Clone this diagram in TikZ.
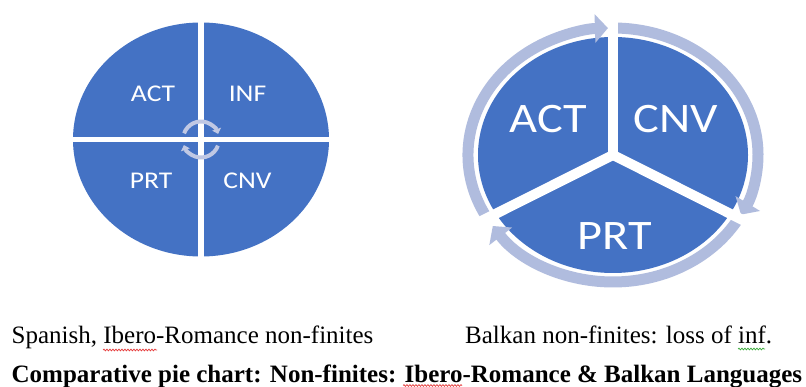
\documentclass[tikz,border=0pt]{standalone}
\usepackage{fontspec}
\setmainfont{Liberation Serif}
\newfontfamily\piefont{Carlito}
\usetikzlibrary{arrows.meta,decorations.pathmorphing,calc}
\definecolor{pieblue}{RGB}{68,114,196}
\definecolor{ringblue}{RGB}{176,188,222}
\definecolor{cyclearc}{RGB}{192,200,228}
\definecolor{spellred}{RGB}{230,60,60}
\definecolor{spellgreen}{RGB}{60,170,60}
\begin{document}
\begin{tikzpicture}[x=1pt,y=1pt,
  pielabel/.style={text=white, font=\piefont\fontsize{24}{28}\selectfont, xscale=1.15, inner sep=0, anchor=base},
  biglabel/.style={text=white, font=\piefont\fontsize{42}{48}\selectfont, xscale=1.15, inner sep=0, anchor=base},
  caption/.style={font=\fontsize{25}{30}\selectfont, inner sep=0, anchor=base west},
  titlecap/.style={font=\bfseries\fontsize{25}{30}\selectfont, inner sep=0, anchor=base west},
  ringarc/.style={ringblue, line width=11, -{Triangle[width=28pt,length=13pt]}},
  cycarc/.style={cyclearc, line width=4, -{Triangle[width=9pt,length=5pt]}},
  squiggle/.style={decorate, decoration={snake, amplitude=0.9pt, segment length=3pt}, line width=0.7pt}
]
\useasboundingbox[fill=white] (0,0) rectangle (806,-387);

% ---------- left pie ----------
\coordinate (lc) at (201,-139.5);
\fill[pieblue] (lc) ellipse[x radius=128, y radius=117];
\draw[white, line width=6] ([yshift=125]lc) -- ([yshift=-125]lc);
\draw[white, line width=5] ([xshift=-135]lc) -- ([xshift=135]lc);
\draw[cycarc] ([shift={(160:18)}]lc) arc[start angle=160, end angle=18, radius=18];
\draw[cycarc] ([shift={(-20:18)}]lc) arc[start angle=-20, end angle=-162, radius=18];
\node[pielabel] (lact) at (153,-101.7) {ACT};
\node[pielabel] (linf) at (247.5,-101.7) {INF};
\node[pielabel] (lprt) at (151,-189) {PRT};
\node[pielabel] (lcnv) at (247.5,-189) {CNV};

% ---------- right pie ----------
\coordinate (rc) at (613,-155);
\fill[pieblue] (rc) ellipse[x radius=135, y radius=118];
\draw[ringarc] ([shift={(209:145 and 127)}]rc) arc[start angle=209, end angle=92, x radius=145, y radius=127];
\draw[ringarc] ([shift={(89:145 and 127)}]rc) arc[start angle=89, end angle=-28, x radius=145, y radius=127];
\draw[ringarc] ([shift={(-31:145 and 127)}]rc) arc[start angle=-31, end angle=-146, x radius=145, y radius=127];
\draw[white, line width=10, line cap=round] (rc) -- ([shift={(90:175 and 152)}]rc);
\draw[white, line width=10, line cap=round] (rc) -- ([shift={(210:175 and 152)}]rc);
\draw[white, line width=10, line cap=round] (rc) -- ([shift={(330:175 and 152)}]rc);
\node[biglabel] (ract) at (548.5,-133) {ACT};
\node[biglabel] (rcnv) at (675.8,-133) {CNV};
\node[biglabel] (rprt) at (614.7,-249.3) {PRT};

% ---------- captions ----------
\node[caption] (cap1) at (11.5,-344) {Spanish, Ibero-Romance non-finites};
\node[caption] (cap2) at (465,-343.5) {Balkan non-finites: loss of inf.};
\node[titlecap] (title) at (11.5,-382) {Comparative pie chart: Non-finites: Ibero-Romance \& Balkan Languages};
\draw[squiggle, spellred] (103,-350) -- (157,-350);
\draw[squiggle, spellred] (403,-385.5) -- (462,-385.5);
\draw[squiggle, spellgreen] (738,-349) -- (765,-349);
\end{tikzpicture}
\end{document}
